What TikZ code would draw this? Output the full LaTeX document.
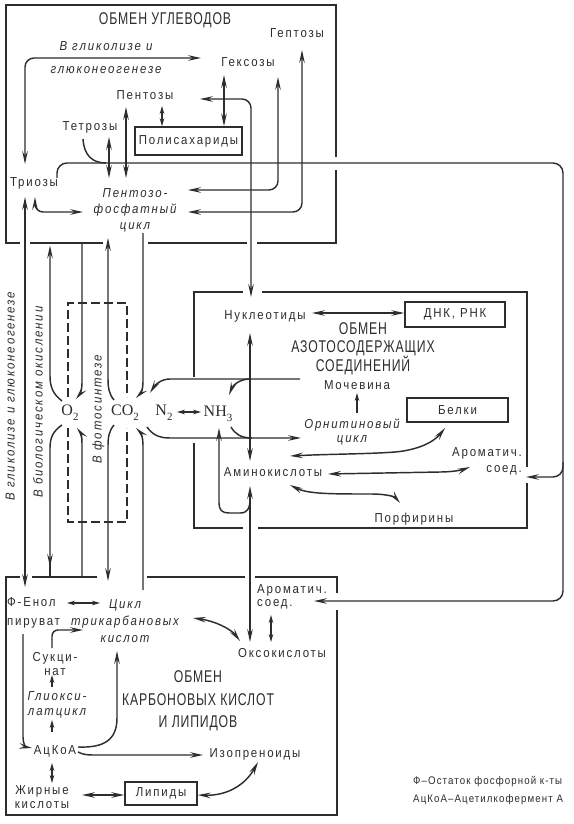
\documentclass[tikz,border=0pt]{standalone}
\usepackage{fontspec}
\setmainfont{Liberation Sans}
\newfontfamily\labfont[FakeStretch=0.88,LetterSpace=14]{Liberation Sans}
\newfontfamily\legfont[FakeStretch=0.88,LetterSpace=10]{Liberation Sans}
\newfontfamily\titfont[FakeStretch=0.72,LetterSpace=5]{Liberation Sans}
\newfontfamily\chemfont{Liberation Serif}
\usetikzlibrary{arrows.meta}
\definecolor{ink}{RGB}{45,45,45}
\newcommand\chsub[1]{\raisebox{-0.3em}{\fontsize{11}{11}\selectfont #1}}
\begin{document}
\begin{tikzpicture}[x=1pt,y=-1pt,
  >={Stealth[length=13pt,width=5.6pt,inset=4.8pt]},
  sm/.style={>={Stealth[length=8pt,width=4.6pt,inset=2.8pt]}},
  lbl/.style={font=\labfont\fontsize{13}{15}\selectfont, text=ink, inner sep=0pt, text height=9.3pt, text depth=0pt},
  itl/.style={font=\labfont\itshape\fontsize{13}{15}\selectfont, text=ink, inner sep=0pt, text height=9.3pt, text depth=0pt},
  ml/.style={font=\labfont\fontsize{13}{#1}\selectfont, text=ink, inner sep=0pt, align=center},
  mi/.style={font=\labfont\itshape\fontsize{13}{#1}\selectfont, text=ink, inner sep=0pt, align=center},
  ttl/.style={font=\titfont\fontsize{17}{#1}\selectfont, text=ink, inner sep=0pt, align=center},
  leg/.style={font=\legfont\fontsize{11}{13}\selectfont, text=ink, inner sep=0pt, anchor=west, text height=8pt, text depth=0pt},
  chem/.style={font=\chemfont\fontsize{16}{16}\selectfont, text=ink, inner sep=0pt},
  cbox/.style={draw=ink, line width=1.5pt, inner sep=0pt, font=\labfont\fontsize{13}{15}\selectfont, text=ink},
  frame/.style={draw=ink, line width=2.7pt, line join=miter},
  con/.style={draw=ink, line width=1.45pt},
  dsh/.style={draw=ink, line width=1.2pt, dash pattern=on 9pt off 4pt}]

\useasboundingbox (0,0) rectangle (573,824);
\fill[white] (0,0) rectangle (573,824);

% ---------- frames ----------
\draw[frame] (20,243) -- (6,243) -- (6,5) -- (336,5) -- (336,157);
\draw[frame] (336,170) -- (336,243) -- (257,243);
\draw[frame] (247,243) -- (148,243);
\draw[frame] (103,243) -- (30,243);

\draw[frame] (20,577) -- (6,577) -- (6,815) -- (337,815) -- (337,610);
\draw[frame] (337,593) -- (337,577) -- (255,577);
\draw[frame] (245,577) -- (147,577);
\draw[frame] (97,577) -- (32,577);

\draw[frame] (243,292) -- (194,292) -- (194,377);
\draw[frame] (194,443) -- (194,528) -- (243,528);
\draw[frame] (258,528) -- (527,528) -- (527,483);
\draw[frame] (527,467) -- (527,292) -- (262,292);

\draw[dsh] (68,397) -- (68,303) -- (127,303) -- (127,397);
\draw[dsh] (68,428) -- (68,522) -- (127,522) -- (127,428);

% ---------- nodes: carbohydrates ----------
\node[ttl=20] (tTitle) at (165,20) {ОБМЕН УГЛЕВОДОВ};
\node[mi=23] (glLbl) at (106,58) {В гликолизе и\\глюконеогенезе};
\node[lbl] (hex) at (248,62) {Гексозы};
\node[lbl] (hep) at (297,33) {Гептозы};
\node[lbl] (pen) at (145,95) {Пентозы};
\node[lbl] (tet) at (90,126) {Тетрозы};
\node[cbox, minimum width=107pt, minimum height=28pt] (poly) at (188.5,141) {Полисахариды};
\node[lbl] (tri) at (34,182) {Триозы};
\node[mi=16] (ppc) at (135,210) {Пентозо-\\фосфатный\\цикл};

% ---------- middle ----------
\node[chem] (o2) at (70,413) {O\chsub{2}};
\node[chem] (co2) at (125,413) {CO\chsub{2}};
\node[chem] (n2) at (164,413) {N\chsub{2}};
\node[chem] (nh3) at (218,414) {NH\chsub{3}};
\node[itl, rotate=90] (vGl) at (10,396) {В гликолизе и глюконеогенезе};
\node[itl, rotate=90] (vBio) at (38,402) {В биологическом окислении};
\node[itl, rotate=90] (vPh) at (97,409) {В фотосинтезе};

% ---------- nitrogen ----------
\node[lbl] (nuc) at (265,315) {Нуклеотиды};
\node[cbox, minimum width=100pt, minimum height=25pt] (dna) at (455,314.5) {ДНК, РНК};
\node[ttl=17.5] (nTitle) at (363,349) {ОБМЕН\\АЗОТОСОДЕРЖАЩИХ\\СОЕДИНЕНИЙ};
\node[lbl] (moch) at (357,385) {Мочевина};
\node[mi=14] (orn) at (352,432) {Орнитиновый\\цикл};
\node[cbox, minimum width=101pt, minimum height=24pt] (belki) at (457.5,410) {Белки};
\node[lbl] (amino) at (273,472) {Аминокислоты};
\node[ml=16, align=right, anchor=east] (arom1) at (522,461) {Ароматич.\\соед.};
\node[lbl] (porf) at (414,518) {Порфирины};

% ---------- carboxylic acids / lipids ----------
\node[ml=19, align=left, anchor=west] (fenol) at (7,613) {Ф-Енол\\пируват};
\node[mi=17] (cycle) at (125,621) {Цикл\\трикарбановых\\кислот};
\node[ml=13.5, align=left, anchor=west] (arom2) at (257,597) {Ароматич.\\соед.};
\node[lbl] (okso) at (282,653) {Оксокислоты};
\node[ml=13.5] (succ) at (55,664) {Сукци-\\нат};
\node[mi=15] (glyox) at (57,705) {Глиокси-\\латцикл};
\node[lbl] (acoa) at (55,750) {АцКоА};
\node[lbl] (iso) at (255,753) {Изопреноиды};
\node[ml=13.5] (fat) at (42,797) {Жирные\\кислоты};
\node[cbox, minimum width=72pt, minimum height=23pt] (lip) at (161,793.5) {Липиды};
\node[ttl=22.5] (bTitle) at (198,701) {ОБМЕН\\КАРБОНОВЫХ КИСЛОТ\\И ЛИПИДОВ};
\node[leg] (leg1) at (413,780) {Ф–Остаток фосфорной к-ты};
\node[leg] (leg2) at (413,798) {АцКоА–Ацетилкофермент А};

% ---------- connectors: carbohydrates ----------
\draw[con,<->,rounded corners=9pt] (25,164) -- (25,58) -- (201,58);
\draw[con,<->,sm] (162,106) -- (poly.north -| 162,0);
\draw[con,<->] (224,75) -- (poly.north -| 224,0);
\draw[con,<->] (109,137) -- (109,178);
\draw[con,<->] (126,107) -- (126,178);
\draw[con,<->,rounded corners=8pt] (35,197) -- (35,212) -- (83,212);
\draw[con,<->,rounded corners=9pt] (278,77) -- (278,190) -- (188,190);
\draw[con,<->,rounded corners=9pt] (302,50) -- (302,212) -- (188,212);
\draw[con,<->,rounded corners=9pt] (200,99) -- (251,99) -- (251,297);
\draw[con,->,rounded corners=10pt] (57,178) -- (57,163) -- (563,163) -- (563,601) -- (314,601);
\draw[con,->,rounded corners=10pt] (563,462) |- (526,477);
\draw[con] (83,139) .. controls (84,155) and (92,163) .. (106,163);

% ---------- connectors: O2 / CO2 ----------
\draw[con,->] (62,401) .. controls (53,394) and (50,387) .. (50,376) -- (50,245.5);
\draw[con,->] (82,244) -- (82,383) .. controls (82,390) and (80,394) .. (76,399);
\draw[con,->] (62,425) .. controls (53,431) and (50,438) .. (50,448) -- (50,567);
\draw[con] (50,560) -- (50,577);
\draw[con,->] (82,577) -- (82,443) .. controls (82,436) and (80,432) .. (77,428);
\draw[con,->] (114,400) .. controls (109,394) and (108,388) .. (108,378) -- (108,238);
\draw[con,->] (143,233) -- (143,382) .. controls (143,389) and (141,393) .. (136,398);
\draw[con,->] (114,425) .. controls (109,431) and (108,437) .. (108,446) -- (108,581);
\draw[con,->] (143,590) -- (143,445) .. controls (143,438) and (141,433) .. (136,428);
\draw[con,<->,sm] (177,412) -- (201,412);
\draw[con,->] (300,379) -- (170,379) .. controls (161,379) and (155,385) .. (150,393);
\draw[con,->] (250,379) .. controls (240,379) and (233,385) .. (229,395);
\draw[con,->] (147,427) .. controls (152,434) and (158,438) .. (170,438) -- (301,438);
\draw[con] (231,427) .. controls (235,434) and (241,438) .. (252,438);

% ---------- connectors: nitrogen ----------
\draw[con,<->] (250,333) -- (250,461);
\draw[con,<->] (312,313) -- (dna.west |- 0,313);
\draw[con,->,sm] (357,413) -- (357,393);
\draw[con,<->] (290,456) .. controls (330,454) and (370,454) .. (395,452) .. controls (418,450) and (434,442) .. (445,428);
\draw[con,<->] (328,474) -- (440,472) .. controls (452,472) and (462,470) .. (470,467);
\draw[con,<->] (290,485) .. controls (308,494) and (330,494) .. (372,494) .. controls (387,494) and (395,497) .. (400,503);
\draw[con,<->] (250,486) -- (250,642);
\draw[con,->] (250,499) .. controls (250,509) and (247,513) .. (240,513) -- (229,513) .. controls (222,513) and (219,510) .. (219,503) -- (219,428);

% ---------- connectors: carboxylic acids ----------
\draw[con,<->] (25,197) -- (25,587);
\draw[con,<->,sm] (67,603) -- (100,603);
\draw[con,<->] (193,618) .. controls (215,621) and (231,629) .. (240,641);
\draw[con,<->,sm] (271,615) -- (271,642);
\draw[con,->,rounded corners=6pt] (52,648) -- (52,630) -- (83,630);
\draw[con,->,sm] (52,687) -- (52,675);
\draw[con,->,sm] (52,732) -- (52,720);
\draw[con,->] (23,634) -- (23,737) .. controls (23,744) and (26,747) .. (32,748);
\draw[con,->] (78,747) .. controls (104,748) and (117,740) .. (117,718) -- (117,651);
\draw[con,->] (78,752) .. controls (84,755) and (88,755) .. (95,755) -- (203,755);
\draw[con,<->,sm] (52,763) -- (52,783);
\draw[con,<->] (82,795) -- (lip.west |- 0,795);
\draw[con,<->] (lip.east |- 0,795) .. controls (228,796) and (246,784) .. (258,762);
\end{tikzpicture}
\end{document}
